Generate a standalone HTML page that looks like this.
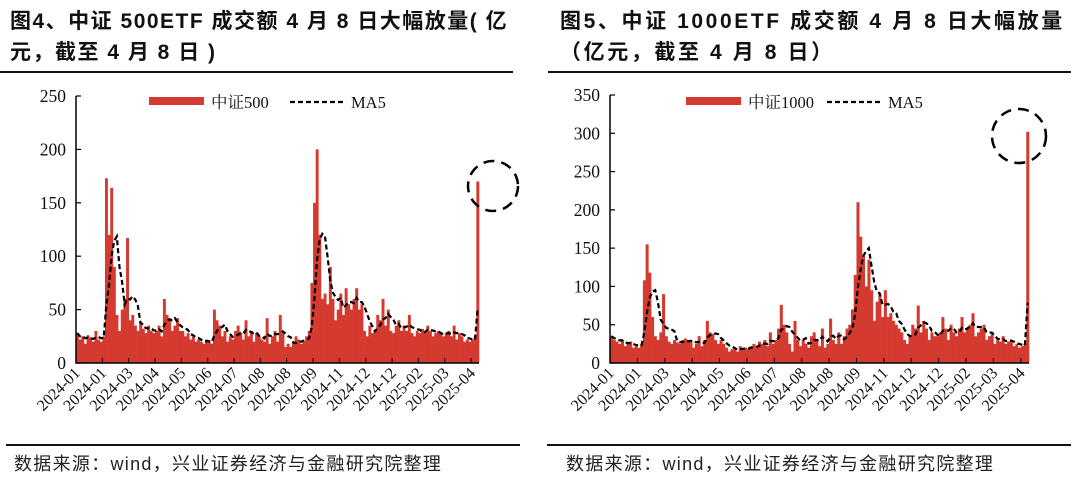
<!DOCTYPE html>
<html><head><meta charset="utf-8"><style>
body{margin:0;width:1080px;height:480px;background:#fff;overflow:hidden;font-family:"Liberation Sans","Noto Sans CJK SC",sans-serif}
.t{position:absolute;font-weight:bold;font-size:21px;line-height:31px;color:#111;letter-spacing:1.5px;white-space:nowrap}
.src{position:absolute;font-size:18px;color:#222;top:450px;letter-spacing:1.3px;white-space:nowrap}
.hr{position:absolute;height:1.5px;background:#111}
</style></head><body>
<div class="t" style="left:10px;top:6px">图4、中证 500ETF 成交额 4 月 8 日大幅放量( 亿<br>元，截至 4 月 8 日 )</div>
<div class="t" style="left:560px;top:6px;letter-spacing:2.6px">图5、中证 1000ETF 成交额 4 月 8 日大幅放量<br>（亿元，截至 4 月 8 日）</div>
<div class="hr" style="left:0;top:71px;width:513px"></div>
<div class="hr" style="left:548px;top:71px;width:523px"></div>
<div class="hr" style="left:6px;top:444px;width:514px"></div>
<div class="hr" style="left:547px;top:444px;width:524px"></div>
<div class="src" style="left:14px">数据来源：wind，兴业证券经济与金融研究院整理</div>
<div class="src" style="left:566px">数据来源：wind，兴业证券经济与金融研究院整理</div>
<svg id="svg" width="1080" height="480" style="position:absolute;left:0;top:0" font-family="'Liberation Serif','Noto Serif CJK SC',serif"></svg>
<script>
const monthLabels=["2024-01","2024-01","2024-03","2024-04","2024-05","2024-06","2024-07","2024-08","2024-08","2024-09","2024-11","2024-12","2024-12","2025-02","2025-03","2025-04"];
const ticks500=[0,50,100,150,200,250];
const ticks1000=[0,50,100,150,200,250,300,350];
const vol500=[28,22,25,18,26,24,20,30,22,20,
25,173,120,164,90,45,30,50,60,117,
40,45,35,30,38,32,28,35,30,28,
30,35,25,60,45,40,30,35,42,30,
30,25,28,22,25,20,22,20,18,22,
20,18,50,40,35,25,30,20,25,22,
30,35,28,22,40,25,30,20,28,25,
22,20,42,18,25,30,20,45,28,15,
18,15,20,25,22,18,20,25,30,75,
150,200,120,60,65,55,90,60,40,50,
65,45,70,55,50,60,70,50,55,30,
25,35,28,30,45,40,60,35,50,30,
28,35,40,30,35,30,45,28,25,30,
28,32,30,35,30,25,28,30,27,25,
28,30,25,35,22,28,25,20,22,20,
22,25,170];
const vol1000=[35,30,28,25,30,22,25,28,20,22,
20,25,108,155,118,60,35,30,40,90,
35,28,25,30,27,25,30,32,28,30,
20,25,35,22,30,55,40,38,30,25,
30,25,20,15,18,20,15,22,18,20,
18,22,25,20,28,25,30,22,40,25,
30,45,76,50,40,25,15,55,30,22,
30,25,20,35,40,30,22,45,20,25,
58,30,25,40,25,35,45,50,70,115,
210,165,140,100,135,95,55,80,90,60,
95,60,65,55,50,45,40,30,25,35,
50,45,75,40,55,45,30,40,35,35,
40,60,45,30,50,40,35,45,60,40,
45,50,65,35,40,45,50,30,35,38,
25,30,28,35,25,28,30,22,25,20,
22,25,302];
const svg=document.getElementById('svg');
const NS='http://www.w3.org/2000/svg';
function mk(tag,attrs){const e=document.createElementNS(NS,tag);for(const k in attrs)e.setAttribute(k,attrs[k]);svg.appendChild(e);return e;}
function chart(cfg){
  const {x0,x1,y0,yTop,max,data,ticks,name,label,leg,circle}=cfg;
  const ys=v=>y0-(v/max)*(y0-yTop);
  const n=data.length, step=(x1-x0)/n, monthW=step*10;
  const xs=i=>x0+i*step;
  data.forEach((v,i)=>{
    const r=mk('rect',{x:xs(i),y:ys(v),width:step+0.3,height:y0-ys(v),fill:'#d43a2f'});
    
    
  });
  const pts=data.map((v,i)=>{const s=data.slice(Math.max(0,i-4),i+1);const m=s.reduce((a,b)=>a+b,0)/s.length;return (xs(i)+step/2).toFixed(1)+','+ys(m).toFixed(1);});
  const pl=mk('polyline',{points:pts.join(' '),fill:'none',stroke:'#000','stroke-width':2.2,'stroke-dasharray':'5,3'});
  
  
  const ax=mk('path',{d:`M${x0},${yTop} V${y0} H${x1}`,stroke:'#000','stroke-width':1.5,fill:'none'});
  
  
  ticks.forEach(t=>{
    mk('line',{x1:x0,x2:x0+5,y1:ys(t),y2:ys(t),stroke:'#000','stroke-width':1.2});
    const tx=mk('text',{x:x0-10,y:ys(t)+6,'text-anchor':'end','font-size':17.5,fill:'#111'});
    tx.textContent=t;
    
    
  });
  monthLabels.forEach((m,i)=>{
    const x=x0+i*monthW;
    mk('line',{x1:x,x2:x,y1:y0,y2:y0-5,stroke:'#000','stroke-width':1});
    const tx=mk('text',{x:0,y:0,'text-anchor':'end','font-size':16,fill:'#111',transform:`translate(${x+5},${y0+11}) rotate(-45)`});
    tx.textContent=m;
    
    
  });
  const lr=mk('rect',{x:leg,y:97,width:55,height:8,fill:'#d43a2f'});
  
  
  const lt=mk('text',{x:leg+62,y:108,'font-size':16.5,fill:'#111'});lt.textContent=label;
  
  
  const ml=mk('line',{x1:leg+141,x2:leg+197,y1:102,y2:102,stroke:'#000','stroke-width':2.2,'stroke-dasharray':'5,3'});
  
  
  const mt=mk('text',{x:leg+202,y:108,'font-size':16.5,fill:'#111'});mt.textContent='MA5';
  
  
  const c=mk('circle',{cx:circle[0],cy:circle[1],r:circle[2],fill:'none',stroke:'#000','stroke-width':2.5,'stroke-dasharray':'11,7'});
  
  
}
chart({x0:76,x1:479,y0:363,yTop:96,max:250,data:vol500,ticks:ticks500,name:'csi500',label:'中证500',leg:149,circle:[493,186,25]});
chart({x0:610,x1:1029,y0:363,yTop:95,max:350,data:vol1000,ticks:ticks1000,name:'csi1000',label:'中证1000',leg:686,circle:[1019,136,27]});
</script>
</body></html>
